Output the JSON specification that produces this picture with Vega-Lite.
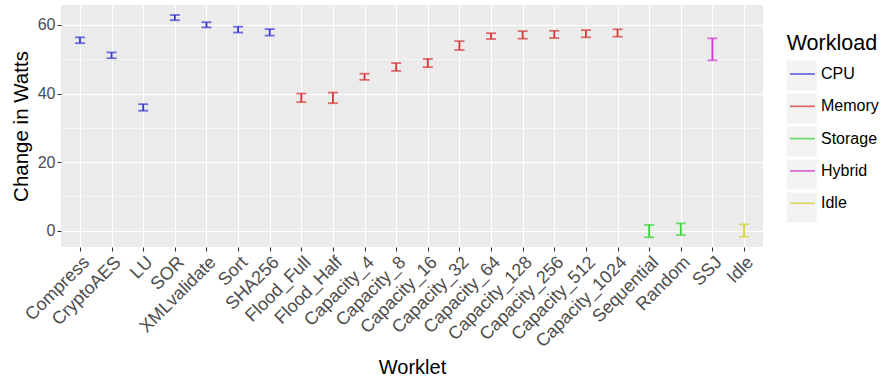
{
  "$schema": "https://vega.github.io/schema/vega-lite/v6.json",
  "width": 702,
  "height": 242,
  "autosize": {"type": "none"},
  "padding": {"left": 61, "top": 5, "right": 119, "bottom": 134},
  "background": "white",
  "config": {
    "font": "Liberation Sans",
    "view": {"fill": "#ebebeb", "stroke": null},
    "axis": {
      "domain": false,
      "tickColor": "#333333",
      "tickSize": 4,
      "tickWidth": 1.1,
      "labelColor": "#4d4d4d",
      "labelFontSize": 16,
      "labelFont": "Liberation Sans",
      "titleFont": "Liberation Sans",
      "titleFontSize": 20,
      "titleFontWeight": "normal",
      "titleColor": "black",
      "gridColor": "white",
      "labelPadding": 2
    }
  },
  "data": {
    "values": [
      {"Worklet": "Compress", "Workload": "CPU", "low": 54.7, "high": 56.4},
      {"Worklet": "CryptoAES", "Workload": "CPU", "low": 50.3, "high": 52.0},
      {"Worklet": "LU", "Workload": "CPU", "low": 35.0, "high": 36.9},
      {"Worklet": "SOR", "Workload": "CPU", "low": 61.4, "high": 62.9},
      {"Worklet": "XMLvalidate", "Workload": "CPU", "low": 59.3, "high": 60.8},
      {"Worklet": "Sort", "Workload": "CPU", "low": 57.8, "high": 59.5},
      {"Worklet": "SHA256", "Workload": "CPU", "low": 56.9, "high": 58.8},
      {"Worklet": "Flood_Full", "Workload": "Memory", "low": 37.5, "high": 40.0},
      {"Worklet": "Flood_Half", "Workload": "Memory", "low": 37.2, "high": 40.3},
      {"Worklet": "Capacity_4", "Workload": "Memory", "low": 44.0, "high": 45.8},
      {"Worklet": "Capacity_8", "Workload": "Memory", "low": 46.6, "high": 48.9},
      {"Worklet": "Capacity_16", "Workload": "Memory", "low": 47.7, "high": 50.1},
      {"Worklet": "Capacity_32", "Workload": "Memory", "low": 52.7, "high": 55.3},
      {"Worklet": "Capacity_64", "Workload": "Memory", "low": 55.9, "high": 57.6},
      {"Worklet": "Capacity_128", "Workload": "Memory", "low": 56.0, "high": 58.2},
      {"Worklet": "Capacity_256", "Workload": "Memory", "low": 56.2, "high": 58.3},
      {"Worklet": "Capacity_512", "Workload": "Memory", "low": 56.4, "high": 58.5},
      {"Worklet": "Capacity_1024", "Workload": "Memory", "low": 56.6, "high": 58.75},
      {"Worklet": "Sequential", "Workload": "Storage", "low": -1.9, "high": 1.7},
      {"Worklet": "Random", "Workload": "Storage", "low": -1.25, "high": 2.15},
      {"Worklet": "SSJ", "Workload": "Hybrid", "low": 49.7, "high": 56.1},
      {"Worklet": "Idle", "Workload": "Idle", "low": -1.75, "high": 1.85}
    ]
  },
  "encoding": {
    "x": {
      "field": "Worklet",
      "type": "nominal",
      "sort": null,
      "scale": {"type": "point", "padding": 0.6},
      "axis": {
        "title": "Worklet",
        "labelAngle": -45,
        "labelAlign": "right",
        "labelBaseline": "top",
        "labelFontSize": 18,
        "grid": true,
        "gridWidth": 1.1,
        "titlePadding": 7
      }
    }
  },
  "layer": [
    {
      "mark": {"type": "rule", "strokeWidth": 1.8},
      "encoding": {
        "y": {
          "field": "low",
          "type": "quantitative",
          "scale": {"domain": [-4.75, 65.83], "nice": false, "zero": false},
          "axis": {
            "title": "Change in Watts",
            "titleFontSize": 20.5,
            "values": [0, 10, 20, 30, 40, 50, 60],
            "labelExpr": "datum.value % 20 === 0 ? datum.label : ''",
            "tickOpacity": {"condition": {"test": "datum.value % 20 === 0", "value": 1}, "value": 0},
            "gridWidth": {"condition": {"test": "datum.value % 20 === 0", "value": 1.1}, "value": 0.55},
            "titlePadding": 6
          }
        },
        "y2": {"field": "high"},
        "color": {
          "field": "Workload",
          "type": "nominal",
          "scale": {
            "domain": ["CPU", "Memory", "Storage", "Hybrid", "Idle"],
            "range": ["#3535d4", "#d43535", "#35d435", "#d435d4", "#d4d435"]
          },
          "legend": {
            "orient": "none",
            "legendX": 728,
            "legendY": 28,
            "zindex": 2,
            "symbolType": "stroke",
            "symbolSize": 625,
            "symbolStrokeWidth": 1.8,
            "labelFontSize": 16,
            "labelFont": "Liberation Sans",
            "labelColor": "black",
            "labelOffset": 5,
            "rowPadding": 10.3,
            "title": " ",
            "titleFontSize": 21.5,
            "titleFont": "Liberation Sans",
            "titleFontWeight": "normal",
            "titlePadding": 6
          }
        }
      }
    },
    {
      "mark": {"type": "tick", "size": 10, "thickness": 1.8},
      "encoding": {
        "y": {"field": "low", "type": "quantitative"},
        "color": {"field": "Workload", "type": "nominal"}
      }
    },
    {
      "mark": {"type": "tick", "size": 10, "thickness": 1.8},
      "encoding": {
        "y": {"field": "high", "type": "quantitative"},
        "color": {"field": "Workload", "type": "nominal"}
      }
    },
    {
      "mark": {"type": "point", "filled": true, "size": 0, "strokeWidth": 0, "color": "#f2f2f2"},
      "encoding": {
        "y": {"field": "low", "type": "quantitative"},
        "shape": {
          "field": "Workload",
          "type": "nominal",
          "scale": {"range": ["square", "square", "square", "square", "square"]},
          "legend": {
            "orient": "none",
            "legendX": 725.7,
            "legendY": 28,
            "zindex": 1,
            "symbolType": "square",
            "symbolSize": 900,
            "symbolFillColor": "#f2f2f2",
            "symbolStrokeWidth": 0,
            "symbolOpacity": 1,
            "labelFontSize": 16,
            "labelExpr": "''",
            "rowPadding": 3,
            "title": "Workload",
            "titleFontSize": 21.5,
            "titleFont": "Liberation Sans",
            "titleFontWeight": "normal",
            "titleColor": "black",
            "titlePadding": 6
          }
        }
      }
    }
  ]
}
